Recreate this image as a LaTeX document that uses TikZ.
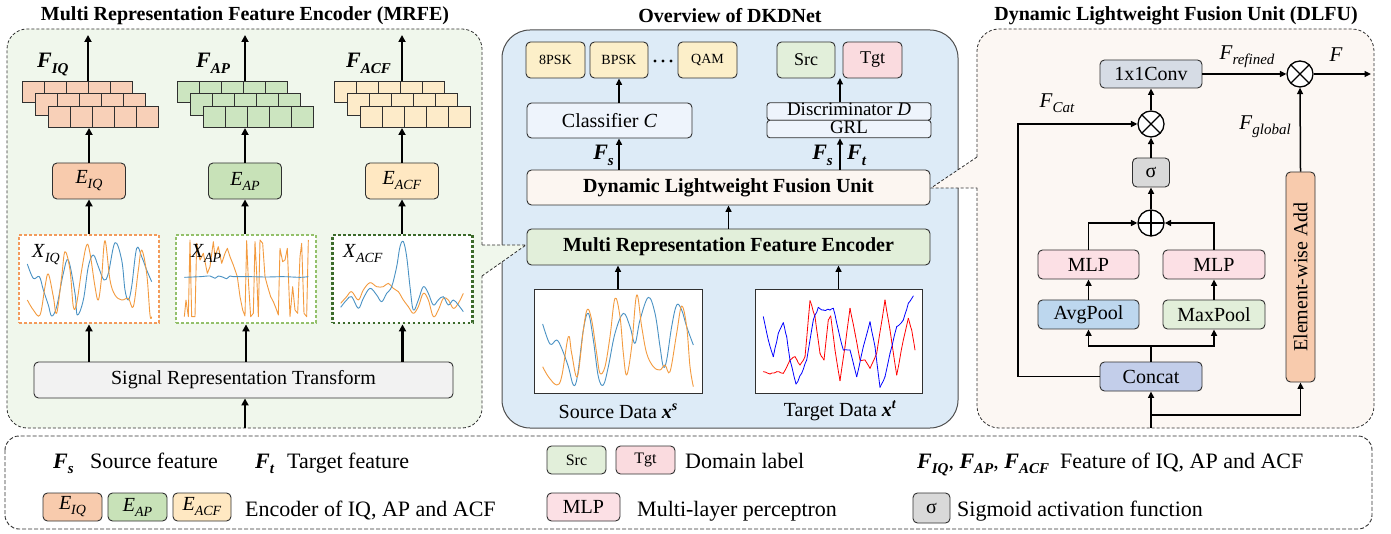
\documentclass[tikz,border=0pt]{standalone}
\usepackage{fontspec}
\setmainfont{Liberation Serif}
\usetikzlibrary{arrows.meta}

\definecolor{bgmrfe}{HTML}{F0F7EC}
\definecolor{bgnet}{HTML}{DDEBF7}
\definecolor{bgdlfu}{HTML}{FCF7F3}
\definecolor{cIQ}{HTML}{F8CBAD}
\definecolor{cAP}{HTML}{C8E2B8}
\definecolor{cACF}{HTML}{FFE8C2}
\definecolor{mIQ}{HTML}{F8D0B8}
\definecolor{mAP}{HTML}{CCE5C0}
\definecolor{mACF}{HTML}{FDEBC9}
\definecolor{dIQ}{HTML}{F39A5A}
\definecolor{dAP}{HTML}{93C06A}
\definecolor{dACF}{HTML}{3C6A2B}
\definecolor{wOrange}{HTML}{F39B3F}
\definecolor{wBlue}{HTML}{4A92C4}
\definecolor{cls}{HTML}{FCEFC9}
\definecolor{srcg}{HTML}{E2EFDA}
\definecolor{tgtp}{HTML}{FADBDF}
\definecolor{lite}{HTML}{EEF4FC}
\definecolor{dlfuc}{HTML}{FCF6F1}
\definecolor{mrfec}{HTML}{E2EFDA}
\definecolor{convc}{HTML}{D6DCE5}
\definecolor{sigc}{HTML}{D9D9D9}
\definecolor{mlpc}{HTML}{FCE0E5}
\definecolor{avgc}{HTML}{BDD7EE}
\definecolor{maxc}{HTML}{E2EFDA}
\definecolor{catc}{HTML}{C3CEEA}
\definecolor{ewac}{HTML}{F8CBAD}
\definecolor{srtc}{HTML}{F2F2F2}
\definecolor{edge}{HTML}{303030}

\newcommand{\fsz}[1]{\fontsize{#1}{#1}\selectfont}
% italic symbol with italic subscript
\newcommand{\ilab}[3][14]{\textit{#2}\raisebox{-0.25em}{\fsz{#1}\textit{#3}}}
% bold italic symbol with bold italic subscript
\newcommand{\blab}[3][15]{\textbf{\textit{#2}}\raisebox{-0.25em}{\fsz{#1}\textbf{\textit{#3}}}}
% bold italic symbol with bold italic superscript
\newcommand{\bsup}[3][14]{\textbf{\textit{#2}}\raisebox{0.42em}{\fsz{#1}\textbf{\textit{#3}}}}

% three stacked feature maps of five cells each
\newcommand{\fmap}[3]{%
  \foreach \k in {0,1,2}{%
    \foreach \c in {0,...,4}{%
      \draw[draw=edge, line width=0.8pt, fill=#3] ({#1+13*\k+22*\c},{#2+12.5*\k}) rectangle ++(22,21.5);
    }%
  }%
}

\tikzset{
  box/.style={draw=edge, line width=0.9pt, rounded corners=4.5pt, inner sep=0pt, align=center, font=\fsz{20}},
  arr/.style={-{Triangle[length=6.5pt,width=6pt]}, line width=1.5pt},
  thk/.style={-{Triangle[length=7pt,width=7pt]}, line width=2.1pt},
  ln/.style={line width=1.5pt},
  opc/.style={circle, draw=black, line width=1.3pt, minimum size=26pt, inner sep=0pt, fill=white},
  otimesnode/.style={opc, path picture={\draw[line width=1.3pt] (path picture bounding box.north west) -- (path picture bounding box.south east) (path picture bounding box.north east) -- (path picture bounding box.south west);}},
  oplusnode/.style={opc, path picture={\draw[line width=1.3pt] (path picture bounding box.north) -- (path picture bounding box.south) (path picture bounding box.west) -- (path picture bounding box.east);}},
  wave/.style={line width=0.9pt, line join=round},
  noisy/.style={line width=0.8pt, line join=round, line cap=round},
  panel/.style={dash pattern=on 3pt off 2pt, line width=0.8pt, draw=edge},
  ttl/.style={font=\fsz{20}\bfseries, inner sep=0pt},
  wbox/.style={dash pattern=on 2.8pt off 2.2pt, line width=2.8pt, fill=white, inner sep=0pt, minimum width=140pt, minimum height=88pt},
  pbox/.style={draw=edge, line width=0.9pt, fill=white, inner sep=0pt, minimum width=168pt, minimum height=104pt},
  leg/.style={font=\fsz{22}, anchor=base west, inner sep=0pt},
  lbox/.style={box, minimum width=59pt, minimum height=28pt},
}

\begin{document}
\begin{tikzpicture}[x=1pt,y=-1pt]
\useasboundingbox (0,0) rectangle (1391,534);
\pgfmathsetseed{7}

% ================= panels =================
\draw[fill=bgnet, draw=edge!85, line width=1pt, rounded corners=28pt] (502,30) rectangle (958,428);

\fill[bgmrfe, rounded corners=20pt] (7,29) rectangle (482,428);
\fill[bgmrfe] (481.2,245) -- (526,245) -- (481.2,277) -- cycle;
\draw[panel, rounded corners=20pt] (482,245) -- (482,29) -- (7,29) -- (7,428) -- (482,428) -- (482,276);
\draw[panel] (482,245) -- (526,245) -- (482,276);

\fill[bgdlfu, rounded corners=22pt] (977,29) rectangle (1374,428);
\fill[bgdlfu] (978,157) -- (931,188) -- (978,188) -- cycle;
\draw[panel, rounded corners=22pt] (977,188) -- (977,428) -- (1374,428) -- (1374,29) -- (977,29) -- (977,157);
\draw[panel] (977,157) -- (931,188) -- (977,188);

\node[ttl] (t1) at (245,16) {Multi Representation Feature Encoder (MRFE)};
\node[ttl] (t2) at (730,16) {Overview of DKDNet};
\node[ttl] (t3) at (1176,16) {Dynamic Lightweight Fusion Unit (DLFU)};

% ================= MRFE =================
\fmap{22}{81}{mIQ}
\fmap{177}{81}{mAP}
\fmap{334}{81}{mACF}

\node[anchor=base west, inner sep=0pt, font=\fsz{22}] (lfiq) at (37,68) {\blab{F}{IQ}};
\node[anchor=base west, inner sep=0pt, font=\fsz{22}] (lfap) at (196,68) {\blab{F}{AP}};
\node[anchor=base west, inner sep=0pt, font=\fsz{22}] (lfacf) at (346,68) {\blab{F}{ACF}};

\node[box, fill=cIQ, minimum width=73pt, minimum height=36pt] (eiq) at (89,181) {\ilab{E}{IQ}};
\node[box, fill=cAP, minimum width=73pt, minimum height=36pt] (eap) at (245,181) {\ilab{E}{AP}};
\node[box, fill=cACF, minimum width=73pt, minimum height=36pt] (eacf) at (402,181) {\ilab{E}{ACF}};

\node[wbox, draw=dIQ] (xiq) at (89,279) {};
\node[wbox, draw=dAP] (xap) at (246,279) {};
\node[wbox, draw=dACF] (xacf) at (402.5,279) {};

% IQ waveform
\begin{scope}
\clip (21,237) rectangle (157,321);
\begin{scope}[shift={(0,220)}, scale=0.33333]
\draw[wave, wBlue] plot[smooth, tension=0.6] coordinates {(82,132) (100,175) (118,170) (130,210) (145,255) (155,288) (170,260) (190,160) (205,120) (225,220) (232,285) (250,240) (265,140) (280,105) (295,140) (312,180) (325,160) (345,68) (365,120) (375,210) (385,240) (395,200) (410,85) (425,110) (440,150) (455,185)};
\draw[wave, wOrange] plot[smooth, tension=0.6] coordinates {(82,240) (100,270) (120,285) (135,200) (145,162) (160,230) (170,280) (185,170) (195,95) (210,150) (220,260) (230,250) (245,150) (260,75) (270,100) (285,200) (295,240) (305,170) (315,62) (330,180) (345,225) (365,240) (385,235) (400,260) (415,150) (425,90) (440,160) (450,285) (455,290)};
\end{scope}
\end{scope}

% AP waveform
\begin{scope}
\clip (178,237) rectangle (314,321);
\begin{scope}[shift={(0,220)}, scale=0.33333]
\draw[wave, wOrange] plot coordinates {(553,290) (558,240) (565,290) (570,60) (575,290) (585,290) (590,70) (600,120) (610,100) (622,160) (630,140) (640,65) (645,110) (655,80) (665,130) (675,100) (682,85) (690,110) (700,135) (712,170) (720,230) (728,270) (735,288) (740,62) (745,180) (752,290) (760,280) (765,65) (770,160) (775,290) (780,60) (788,70) (795,170) (803,200) (812,230) (820,245) (828,265) (835,285) (840,85) (848,125) (855,120) (862,85) (870,290) (878,200) (885,270) (893,280) (900,110) (905,70) (912,280) (920,290) (925,60)};
\draw[wave, wBlue] plot[smooth] coordinates {(553,172) (600,170) (630,168) (645,175) (655,168) (670,172) (680,176) (690,168) (700,170) (750,170) (800,171) (850,170) (900,172) (925,170)};
\end{scope}
\end{scope}

% ACF waveform
\begin{scope}
\clip (335,237) rectangle (470,321);
\begin{scope}[shift={(0,220)}, scale=0.33333]
\draw[wave, wOrange] plot[smooth, tension=0.6] coordinates {(1022,250) (1040,230) (1055,215) (1075,240) (1090,210) (1110,188) (1130,200) (1150,200) (1165,190) (1180,205) (1195,215) (1210,240) (1225,260) (1240,280) (1255,260) (1270,220) (1285,240) (1300,290) (1315,270) (1330,235) (1345,240) (1360,265) (1375,250) (1390,220)};
\draw[wave, wBlue] plot[smooth, tension=0.6] coordinates {(1022,262) (1040,240) (1055,230) (1075,265) (1090,235) (1110,205) (1130,225) (1145,245) (1160,220) (1175,200) (1190,140) (1200,80) (1210,65) (1220,110) (1230,200) (1240,270) (1255,240) (1270,200) (1285,220) (1300,255) (1315,240) (1330,230) (1345,255) (1360,240) (1375,255) (1390,275)};
\end{scope}
\end{scope}

\node[anchor=base west, inner sep=0pt, font=\fsz{20}] (lxiq) at (32,258) {\ilab{X}{IQ}};
\node[anchor=base west, inner sep=0pt, font=\fsz{20}] (lxap) at (191,258) {\ilab{X}{AP}};
\node[anchor=base west, inner sep=0pt, font=\fsz{20}] (lxacf) at (343,258) {\ilab{X}{ACF}};

\node[box, fill=srtc, minimum width=419pt, minimum height=36pt] (srt) at (243.5,380) {Signal Representation Transform};

\coordinate (miqb) at (89,128);
\coordinate (mapb) at (245,128);
\coordinate (macfb) at (402,128);
\coordinate (miqt) at (88,81);
\coordinate (mapt) at (245,81);
\coordinate (macft) at (402,81);
\coordinate (oiq) at (88,35);
\coordinate (oap) at (245,35);
\coordinate (oacf) at (402,35);
\coordinate (inmrfe) at (245,428);

\draw[thk] (miqt) -- (oiq);
\draw[thk] (mapt) -- (oap);
\draw[thk] (macft) -- (oacf);
\draw[thk] (eiq.north) -- (miqb);
\draw[thk] (eap.north) -- (mapb);
\draw[thk] (eacf.north) -- (macfb);
\draw[thk] (xiq.north) -- (eiq.south);
\draw[thk] (xap.north -| eap.south) -- (eap.south);
\draw[thk] (xacf.north -| eacf.south) -- (eacf.south);
\draw[thk] (srt.north -| xiq.south) -- (xiq.south);
\draw[thk] (srt.north -| xap.south) -- (xap.south);
\draw[thk] (srt.north -| xacf.south) -- (xacf.south);
\draw[thk] (inmrfe) -- (inmrfe |- srt.south);

% ================= DKDNet overview =================
\node[box, fill=cls, font=\fsz{14}, minimum width=59pt, minimum height=36pt] (c8) at (555.5,60) {8PSK};
\node[box, fill=cls, font=\fsz{14}, minimum width=58pt, minimum height=36pt] (cb) at (619,60) {BPSK};
\node[box, fill=cls, font=\fsz{14}, minimum width=59pt, minimum height=36pt] (cq) at (707.5,60) {QAM};
\fill (655,61) circle (1.7) (663,61) circle (1.7) (671,61) circle (1.7);
\node[box, fill=srcg, font=\fsz{18}, minimum width=58pt, minimum height=36pt] (dsrc) at (806,60) {Src};
\node[box, fill=tgtp, font=\fsz{18}, minimum width=59pt, minimum height=36pt] (dtgt) at (872.5,60) {Tgt};

\node[box, fill=lite, minimum width=165pt, minimum height=35pt] (clf) at (609.5,120.5) {Classifier \textit{C}};
\node[box, fill=lite, rounded corners=3pt, font=\fsz{19}, text height=11pt, text depth=2pt, minimum width=164pt, minimum height=17.5pt] (disc) at (849,111.5) {Discriminator \textit{D}};
\node[box, fill=lite, rounded corners=3pt, font=\fsz{19}, text height=11pt, text depth=2pt, minimum width=164pt, minimum height=17.5pt] (grl) at (849,129) {GRL};

\node[box, fill=dlfuc, font=\fsz{20}\bfseries, minimum width=403pt, minimum height=35pt] (dlfu) at (728.5,187.5) {Dynamic Lightweight Fusion Unit};
\node[box, fill=mrfec, font=\fsz{20}\bfseries, minimum width=403pt, minimum height=36pt] (mrfe) at (728.5,247) {Multi Representation Feature Encoder};

\node[pbox] (srcd) at (618,341) {};
\node[pbox, minimum width=167pt] (tgtd) at (838.5,341) {};

% source data
\begin{scope}
\clip (535,290) rectangle (701,392);
\begin{scope}[shift={(490,220)}, scale=0.33333]
\draw[wave, wBlue] plot[smooth, tension=0.6] coordinates {(158,312) (180,372) (200,360) (215,385) (235,440) (250,495) (262,470) (280,330) (295,280) (310,360) (325,470) (340,495) (355,440) (375,340) (400,280) (420,320) (435,370) (450,300) (475,232) (495,280) (510,380) (520,440) (530,420) (545,320) (560,255) (575,270) (590,320) (610,375)};
\draw[wave, wOrange] plot[smooth, tension=0.6] coordinates {(158,440) (175,470) (200,495) (215,470) (235,350) (245,400) (262,470) (280,330) (292,268) (305,300) (320,400) (330,460) (345,440) (360,350) (375,235) (390,290) (400,400) (410,465) (425,380) (440,225) (455,320) (470,400) (490,440) (510,450) (525,435) (540,455) (560,340) (575,258) (590,320) (600,440) (610,500)};
\end{scope}
\end{scope}

% target data: noisy traces, jitter added between successive samples
\begin{scope}
\clip (756,290) rectangle (921,392);
\foreach \bx/\by [remember=\bx as \ax (initially 763.3), remember=\by as \ay (initially 371.7)] in {770/374, 776.7/371.7, 783.3/373.3, 790/360, 795/356.7, 800/365, 805/356.7, 810/300.7, 815/316.7, 820/353.3, 824/360, 828.3/320, 830.7/316, 835/350, 840/380.7, 845/346.7, 850/308.3, 855/333.3, 860/360, 865/360, 870/368.3, 876.7/353.3, 885/300, 890/330, 896.7/375, 903.3/340, 908.3/318.3, 911.7/330, 915/350}{
  \draw[noisy, red] plot[domain=0:1, samples=4] ({\ax+(\bx-\ax)*\x}, {\ay+(\by-\ay)*\x+0.9*rand*sin(180*\x)});
}
\foreach \bx/\by [remember=\bx as \ax (initially 763.3), remember=\by as \ay (initially 316.7)] in {768.3/340, 773.3/356.7, 778.3/333.3, 783.3/322.7, 786.7/336.7, 790/360, 796/384, 801.7/373.3, 806.7/360, 813.3/320, 818.3/307.3, 823.3/310, 830/310, 833.3/308.3, 838.3/330, 843.3/350, 850/350, 856.7/376.7, 863.3/346.7, 870/321.7, 875/346.7, 880/387.3, 885/376.7, 890/353.3, 896.7/326.7, 903.3/320, 908.3/303.3, 913.3/296}{
  \draw[noisy, blue] plot[domain=0:1, samples=4] ({\ax+(\bx-\ax)*\x}, {\ay+(\by-\ay)*\x+1.1*rand*sin(180*\x)});
}
\end{scope}

\node[font=\fsz{20}, inner sep=0pt] (lsrc) at (618,411) {Source Data \bsup{x}{s}};
\node[font=\fsz{20}, inner sep=0pt] (ltgt) at (840,411) {Target Data \bsup{x}{t}};

\coordinate (dx) at (840,78);
\draw[arr] (srcd.north) -- (srcd.north |- mrfe.south);
\draw[arr] (tgtd.north) -- (tgtd.north |- mrfe.south);
\draw[arr] (mrfe.north) -- (dlfu.south);
\draw[arr] (dlfu.north -| cb.south) -- (clf.south -| cb.south);
\draw[arr] (clf.north -| cb.south) -- (cb.south);
\draw[arr] (dlfu.north -| dx) -- (grl.south -| dx);
\draw[arr] (disc.north -| dx) -- (dx);

\node[anchor=base east, inner sep=0pt, font=\fsz{22}] (lfs1) at (614,160) {\blab{F}{s}};
\node[anchor=base east, inner sep=0pt, font=\fsz{22}] (lfs2) at (833,160) {\blab{F}{s}};
\node[anchor=base west, inner sep=0pt, font=\fsz{22}] (lft) at (847,160) {\blab{F}{t}};

% ================= DLFU =================
\node[box, fill=convc, minimum width=102pt, minimum height=28pt] (conv) at (1151,74) {1x1Conv};
\node[otimesnode] (mul2) at (1300,74) {};
\node[otimesnode] (mul1) at (1151,124) {};
\node[box, fill=sigc, minimum width=37pt, minimum height=29pt] (sig) at (1151,172.5) {σ};
\node[oplusnode] (add) at (1151,223) {};
\node[box, fill=mlpc, minimum width=101pt, minimum height=29pt] (mlpa) at (1088.5,264.5) {MLP};
\node[box, fill=mlpc, minimum width=102pt, minimum height=29pt] (mlpb) at (1214,264.5) {MLP};
\node[box, fill=avgc, minimum width=101pt, minimum height=29pt] (avg) at (1088.5,314.5) {AvgPool};
\node[box, fill=maxc, minimum width=102pt, minimum height=29pt] (mx) at (1214,314.5) {MaxPool};
\node[box, fill=catc, minimum width=102pt, minimum height=29pt] (cat) at (1151,376.5) {Concat};
\node[box, fill=ewac, rotate=90, minimum width=210pt, minimum height=29pt] (ewa) at (1300.5,277) {Element-wise Add};

\coordinate (din) at (1151,428);
\coordinate (dsplit) at (1151,415);
\coordinate (csplit) at (1151,346);
\coordinate (catl) at (1018,376.5);
\coordinate (fout) at (1371,74);

\draw[arr] (din) -- (cat.south);
\draw[arr] (dsplit) -| (ewa.west);
\draw[ln] (cat.north) -- (csplit);
\draw[arr] (csplit) -| (avg.south);
\draw[arr] (csplit) -| (mx.south);
\draw[arr] (avg.north) -- (mlpa.south);
\draw[arr] (mx.north) -- (mlpb.south);
\draw[arr] (mlpa.north) |- (add.west);
\draw[arr] (mlpb.north) |- (add.east);
\draw[arr] (add.north) -- (sig.south);
\draw[arr] (sig.north) -- (mul1.south);
\draw[arr] (mul1.north) -- (conv.south);
\draw[arr] (cat.west) -- (catl) |- (mul1.west);
\draw[arr] (conv.east) -- (mul2.west);
\draw[arr] (mul2.east) -- (fout);
\draw[arr] (ewa.east) -- (mul2.south);

\node[font=\fsz{21}, inner sep=0pt] (lref) at (1247,57) {\ilab[15]{F}{refined}};
\node[font=\fsz{21}, inner sep=0pt] (lf) at (1336,55) {\textit{F}};
\node[font=\fsz{21}, inner sep=0pt] (lcat) at (1057,103) {\ilab[15]{F}{Cat}};
\node[font=\fsz{21}, inner sep=0pt] (lglob) at (1265,127) {\ilab[15]{F}{global}};

% ================= legend =================
\draw[dash pattern=on 4pt off 2pt, line width=0.9pt, draw=edge, rounded corners=14pt] (5,436) rectangle (1372,529);

\node[leg] (gfs) at (53,468) {\blab{F}{s}};
\node[leg] (gfst) at (90,468) {Source feature};
\node[leg] (gft) at (255,468) {\blab{F}{t}};
\node[leg] (gftt) at (287,468) {Target feature};
\node[lbox, fill=srcg, font=\fsz{16}, minimum width=59pt] (gsrc) at (576.5,460) {Src};
\node[lbox, fill=tgtp, font=\fsz{16}, minimum width=59pt] (gtgt) at (645.5,460) {Tgt};
\node[leg] (gdom) at (685,468) {Domain label};
\node[leg] (gfeat) at (917,468) {\blab{F}{IQ}, \blab{F}{AP}, \blab{F}{ACF}};
\node[leg] (gfeatt) at (1060,468) {Feature of IQ, AP and ACF};

\node[lbox, fill=cIQ] (geiq) at (72.5,507) {\ilab{E}{IQ}};
\node[lbox, fill=cAP] (geap) at (137.5,507) {\ilab{E}{AP}};
\node[lbox, fill=cACF, minimum width=58pt] (geacf) at (202,507) {\ilab{E}{ACF}};
\node[leg] (genc) at (245,516) {Encoder of IQ, AP and ACF};
\node[lbox, fill=mlpc, minimum width=73pt] (gmlp) at (583.5,507) {MLP};
\node[leg] (gmlpt) at (637,516) {Multi-layer perceptron};
\node[lbox, fill=sigc, minimum width=37pt, minimum height=30pt] (gsig) at (931.5,508) {σ};
\node[leg] (gsigt) at (957,516) {Sigmoid activation function};

\end{tikzpicture}
\end{document}
